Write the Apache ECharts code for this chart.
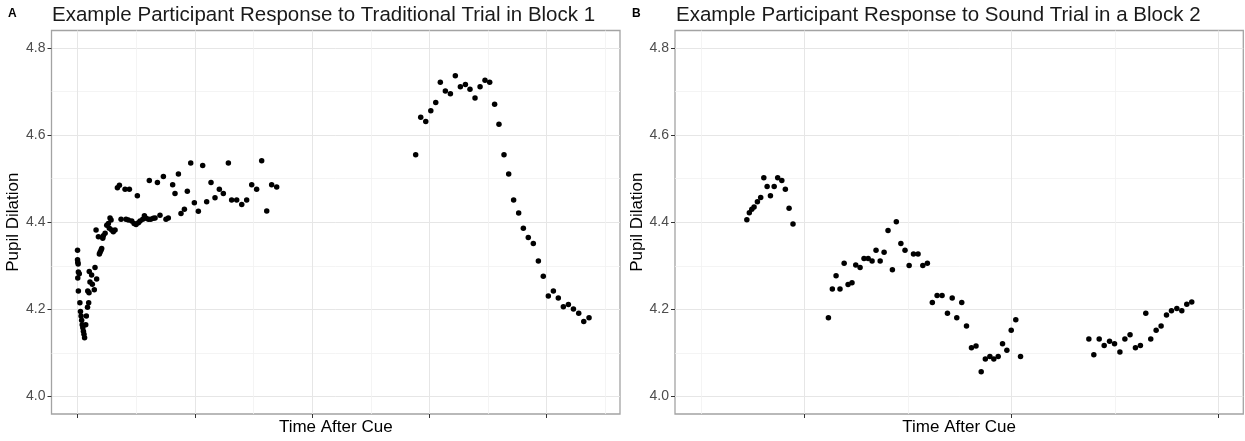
<!DOCTYPE html>
<html>
<head>
<meta charset="utf-8">
<title>Pupil dilation examples</title>
<script src="https://cdn.jsdelivr.net/npm/echarts@6/dist/echarts.min.js"></script>
<style>
  html, body { margin: 0; padding: 0; background: #fff; }
  #chart { width: 1245px; height: 441px; }
</style>
</head>
<body>
<div id="chart"></div>
<script>
// panel A: traditional trial, block 1 (time in tick units after cue)
const tradTime = [
  0.000, 0.000, 0.002, 0.005, 0.007, 0.015, 0.002, 0.007,
  0.020, 0.025, 0.030, 0.035, 0.040, 0.045, 0.050, 0.055, 0.060, 0.070, 0.075, 0.085, 0.095,
  0.087, 0.098, 0.100, 0.106, 0.120, 0.126, 0.143, 0.149, 0.158, 0.163, 0.178, 0.186,
  0.192, 0.200, 0.206, 0.215, 0.220, 0.235, 0.249, 0.263, 0.271, 0.277, 0.286, 0.291,
  0.305, 0.320, 0.340, 0.357, 0.371, 0.405, 0.413, 0.433, 0.442, 0.462, 0.482, 0.499,
  0.510, 0.519, 0.533, 0.556, 0.570, 0.584, 0.604, 0.612, 0.624, 0.646, 0.661, 0.681,
  0.703, 0.732, 0.754, 0.774, 0.811, 0.831, 0.860, 0.882, 0.911, 0.936, 0.965, 0.996,
  1.030, 1.067, 1.101, 1.138, 1.172, 1.209, 1.243, 1.286, 1.314, 1.357, 1.400, 1.442,
  1.485, 1.527, 1.570, 1.613, 1.655, 1.698,
  2.883, 2.926, 2.969, 3.012, 3.054, 3.093, 3.136, 3.179, 3.221, 3.264, 3.307, 3.346,
  3.389, 3.432, 3.474, 3.514, 3.556, 3.593, 3.636, 3.676, 3.718, 3.761, 3.801, 3.843,
  3.886, 3.929, 3.971, 4.014, 4.057, 4.099, 4.142, 4.185, 4.228, 4.273, 4.316, 4.361
];
const tradPupil = [
  4.336, 4.314, 4.308, 4.304, 4.286, 4.282, 4.272, 4.242,
  4.215, 4.195, 4.185, 4.175, 4.165, 4.158, 4.150, 4.143, 4.135, 4.165, 4.185, 4.205, 4.215,
  4.242, 4.238, 4.287, 4.263, 4.279, 4.258, 4.245, 4.296, 4.382, 4.270, 4.367, 4.327,
  4.331, 4.336, 4.340, 4.363, 4.369, 4.375, 4.393, 4.397, 4.386, 4.410, 4.405, 4.382,
  4.378, 4.382, 4.479, 4.485, 4.407, 4.476, 4.407, 4.405, 4.476, 4.403, 4.397, 4.395,
  4.461, 4.399, 4.403, 4.407, 4.415, 4.409, 4.407, 4.496, 4.407, 4.409, 4.410, 4.491,
  4.416, 4.505, 4.407, 4.410, 4.486, 4.466, 4.511, 4.420, 4.430, 4.471, 4.536, 4.445,
  4.425, 4.530, 4.447, 4.491, 4.456, 4.476, 4.466, 4.536, 4.451, 4.451, 4.441, 4.451,
  4.486, 4.476, 4.541, 4.426, 4.486, 4.481,
  4.555, 4.641, 4.631, 4.656, 4.675, 4.721, 4.701, 4.695, 4.736, 4.711, 4.716, 4.705,
  4.685, 4.711, 4.726, 4.721, 4.671, 4.625, 4.555, 4.511, 4.451, 4.421, 4.386, 4.365,
  4.351, 4.311, 4.276, 4.231, 4.242, 4.226, 4.206, 4.211, 4.201, 4.191, 4.172, 4.181
];

// panel B: sound trial, block 2
const soundTime = [
  -0.278, -0.266, -0.254, -0.243, -0.227, -0.211, -0.196, -0.180, -0.164, -0.146,
  -0.129, -0.109, -0.092, -0.074, -0.055,
  0.116, 0.135, 0.153, 0.172, 0.192, 0.211, 0.230, 0.248, 0.269, 0.288, 0.308, 0.327,
  0.346, 0.366, 0.385, 0.404, 0.425, 0.444, 0.466, 0.486, 0.506, 0.527, 0.549, 0.572,
  0.594, 0.618, 0.641, 0.665, 0.691, 0.714, 0.736, 0.760, 0.783, 0.807, 0.829, 0.854,
  0.874, 0.896, 0.915, 0.936, 0.957, 0.978, 0.999, 1.021, 1.044,
  1.374, 1.398, 1.424, 1.448, 1.474, 1.498, 1.524, 1.548, 1.573, 1.599, 1.623, 1.649,
  1.673, 1.699, 1.723, 1.749, 1.773, 1.799, 1.823, 1.847, 1.871
];
const soundPupil = [
  4.406, 4.422, 4.430, 4.435, 4.447, 4.457, 4.502, 4.482, 4.461, 4.482,
  4.502, 4.496, 4.476, 4.432, 4.396,
  4.181, 4.247, 4.277, 4.247, 4.306, 4.257, 4.261, 4.302, 4.296, 4.317, 4.317, 4.311,
  4.336, 4.311, 4.331, 4.381, 4.291, 4.401, 4.351, 4.336, 4.301, 4.327, 4.327, 4.301,
  4.306, 4.216, 4.232, 4.232, 4.191, 4.226, 4.181, 4.216, 4.162, 4.112, 4.116, 4.057,
  4.086, 4.092, 4.086, 4.092, 4.121, 4.106, 4.152, 4.176, 4.092,
  4.132, 4.096, 4.132, 4.117, 4.127, 4.121, 4.102, 4.132, 4.142, 4.112, 4.117, 4.191,
  4.132, 4.152, 4.162, 4.187, 4.197, 4.202, 4.197, 4.212, 4.217
];

const yMajor = [4.0, 4.2, 4.4, 4.6, 4.8];
const yMinor = [4.1, 4.3, 4.5, 4.7];
const tradMajor = [0, 1, 2, 3, 4];
const tradMinor = [0.5, 1.5, 2.5, 3.5, 4.5];
const soundMajor = [0, 1, 2];
const soundMinor = [-0.5, 0.5, 1.5];

const titleA = 'Example Participant Response to Traditional Trial in Block 1';
const titleB = 'Example Participant Response to Sound Trial in a Block 2';

const FONT = '"Liberation Sans", Arial, Helvetica, sans-serif';
const chart = echarts.init(document.getElementById('chart'));

function zip(xs, ys) {
  return xs.map((x, i) => [x, ys[i]]);
}

function majorAxis(extra) {
  return Object.assign({
    type: 'value',
    axisLine: { show: false, onZero: false },
    axisTick: { show: true, length: 4, lineStyle: { color: '#333', width: 1 } },
    axisLabel: { show: false },
    splitLine: { show: true, lineStyle: { color: '#e6e6e6', width: 1 } }
  }, extra);
}

function minorAxis(extra) {
  return Object.assign({
    type: 'value',
    axisLine: { show: false, onZero: false },
    axisTick: { show: false },
    axisLabel: { show: false },
    splitLine: { show: true, lineStyle: { color: '#f1f1f1', width: 0.8 } }
  }, extra);
}

const nameStyle = { fontFamily: FONT, fontSize: 17, color: '#000' };
const yRange = { min: 3.96, max: 4.84 };

function yAxes(gi) {
  return [
    majorAxis(Object.assign({
      gridIndex: gi,
      name: 'Pupil Dilation',
      nameLocation: 'middle',
      nameGap: 26,
      nameTextStyle: nameStyle,
      axisTick: { show: true, length: 4, customValues: yMajor, lineStyle: { color: '#333' } },
      axisLabel: { show: true, customValues: yMajor, margin: 6, fontFamily: FONT, fontSize: 14, color: '#4d4d4d',
        formatter: v => v.toFixed(1) }
    }, yRange)),
    minorAxis(Object.assign({ gridIndex: gi, axisTick: { show: false, customValues: yMinor } }, yRange))
  ];
}

function xAxes(gi, min, max, major, minor) {
  return [
    majorAxis({
      gridIndex: gi, min: min, max: max,
      name: 'Time After Cue',
      nameLocation: 'middle',
      nameGap: 5,
      nameTextStyle: Object.assign({ verticalAlign: 'top' }, nameStyle),
      axisTick: { show: true, length: 4, customValues: major, lineStyle: { color: '#333' } }
    }),
    minorAxis({ gridIndex: gi, min: min, max: max, axisTick: { show: false, customValues: minor } })
  ];
}

const dot = { color: '#000', opacity: 1 };

chart.setOption({
  animation: false,
  backgroundColor: '#fff',
  title: [
    { text: 'A', left: 8, top: 8, padding: 0, textStyle: { fontFamily: FONT, fontSize: 12, fontWeight: 'bold', color: '#000' } },
    { text: titleA, left: 52, top: 5, padding: 0, textStyle: { fontFamily: FONT, fontSize: 20.5, fontWeight: 'normal', color: '#1a1a1a' } },
    { text: 'B', left: 632, top: 8, padding: 0, textStyle: { fontFamily: FONT, fontSize: 12, fontWeight: 'bold', color: '#000' } },
    { text: titleB, left: 676, top: 5, padding: 0, textStyle: { fontFamily: FONT, fontSize: 20.5, fontWeight: 'normal', color: '#1a1a1a' } }
  ],
  grid: [
    { left: 51.5, top: 30.5, width: 568.5, height: 385, show: true, borderColor: '#a3a3a3', borderWidth: 1.3, backgroundColor: 'transparent' },
    { left: 675, top: 30.5, width: 568.3, height: 385, show: true, borderColor: '#a3a3a3', borderWidth: 1.3, backgroundColor: 'transparent' }
  ],
  xAxis: [].concat(
    xAxes(0, -0.222, 4.625, tradMajor, tradMinor),
    xAxes(1, -0.625, 2.12, soundMajor, soundMinor)
  ),
  yAxis: [].concat(yAxes(0), yAxes(1)),
  series: [
    {
      type: 'scatter', xAxisIndex: 0, yAxisIndex: 0,
      symbolSize: 5.5, itemStyle: dot, silent: true,
      data: zip(tradTime, tradPupil)
    },
    {
      type: 'scatter', xAxisIndex: 2, yAxisIndex: 2,
      symbolSize: 5.5, itemStyle: dot, silent: true,
      data: zip(soundTime, soundPupil)
    }
  ]
});
</script>
</body>
</html>
